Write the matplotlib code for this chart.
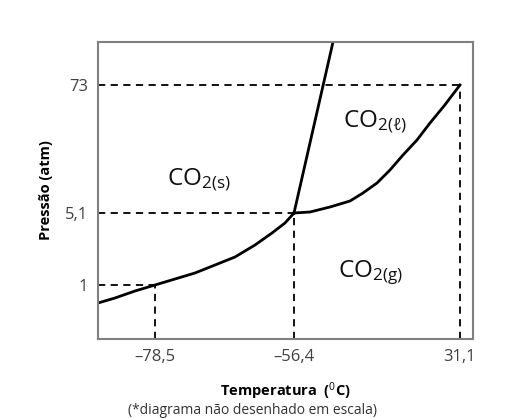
import matplotlib
matplotlib.use("Agg")
import matplotlib.pyplot as plt

# diagrama fora de escala: posicoes esquematicas
x_ticks = [57, 196, 362]
x_labels = ["\u201378,5", "\u201356,4", "31,1"]
y_ticks = [54, 126, 254]
y_labels = ["1", "5,1", "73"]

# curva solido-gas
sub_x = [0, 17, 37, 57, 77, 97, 117, 137, 157, 174, 187, 196]
sub_y = [36, 41, 48, 54, 60, 66, 74, 82, 94, 106, 116, 126]
# curva liquido-gas
vap_x = [196, 212, 232, 252, 265, 279, 292, 305, 319, 332, 346, 362]
vap_y = [126, 127, 132, 138, 146, 156, 169, 184, 199, 216, 233, 254]
# curva solido-liquido
fus_x = [196, 235]
fus_y = [126, 297]

phases = [r"CO$_{2\mathrm{(s)}}$", r"CO$_{2(\ell)}$", r"CO$_{2\mathrm{(g)}}$"]
phase_x = [101, 277, 272]
phase_y = [159, 217, 66]

plt.rcParams['font.family'] = ['Open Sans', 'DejaVu Sans']
plt.rcParams['mathtext.fontset'] = 'custom'
plt.rcParams['mathtext.rm'] = 'Open Sans'
plt.rcParams['mathtext.it'] = 'Open Sans:italic'

fig = plt.figure(figsize=(5.06, 4.18), dpi=100)
ax = fig.add_axes([98/506, 79/418, 375/506, 297/418])
ax.set_xlim(0, 375)
ax.set_ylim(0, 297)

dash = dict(color="black", lw=1.3, ls=(0, (4, 3)))
for xt, yt in zip(x_ticks, y_ticks):
    ax.plot([xt, xt], [0, yt], **dash)
    ax.plot([0, xt], [yt, yt], **dash)

ax.plot(sub_x, sub_y, color="black", lw=2, solid_joinstyle="round")
ax.plot(vap_x, vap_y, color="black", lw=2, solid_joinstyle="round")
ax.plot(fus_x, fus_y, color="black", lw=2)

for t, px, py in zip(phases, phase_x, phase_y):
    ax.text(px, py, t, fontsize=17.5, ha="center", va="center", color="#111111")

ax.set_xticks(x_ticks)
ax.set_xticklabels(x_labels)
ax.set_yticks(y_ticks)
ax.set_yticklabels(y_labels)
ax.tick_params(length=0, labelsize=12, labelcolor="#404040", pad=7)
for s in ax.spines.values():
    s.set_color("#808080")
    s.set_linewidth(1.5)

ax.set_xlabel("Temperatura  ($^{0}$C)", fontsize=10.5, fontweight="bold", labelpad=11)
ax.set_ylabel("Press\u00e3o (atm)", fontsize=10.5, fontweight="bold", labelpad=9)

fig.text(0.5, 8/418, "(*diagrama n\u00e3o desenhado em escala)", fontsize=10,
         ha="center", va="center", color="#333333")

fig.savefig("out.png", dpi=100)
